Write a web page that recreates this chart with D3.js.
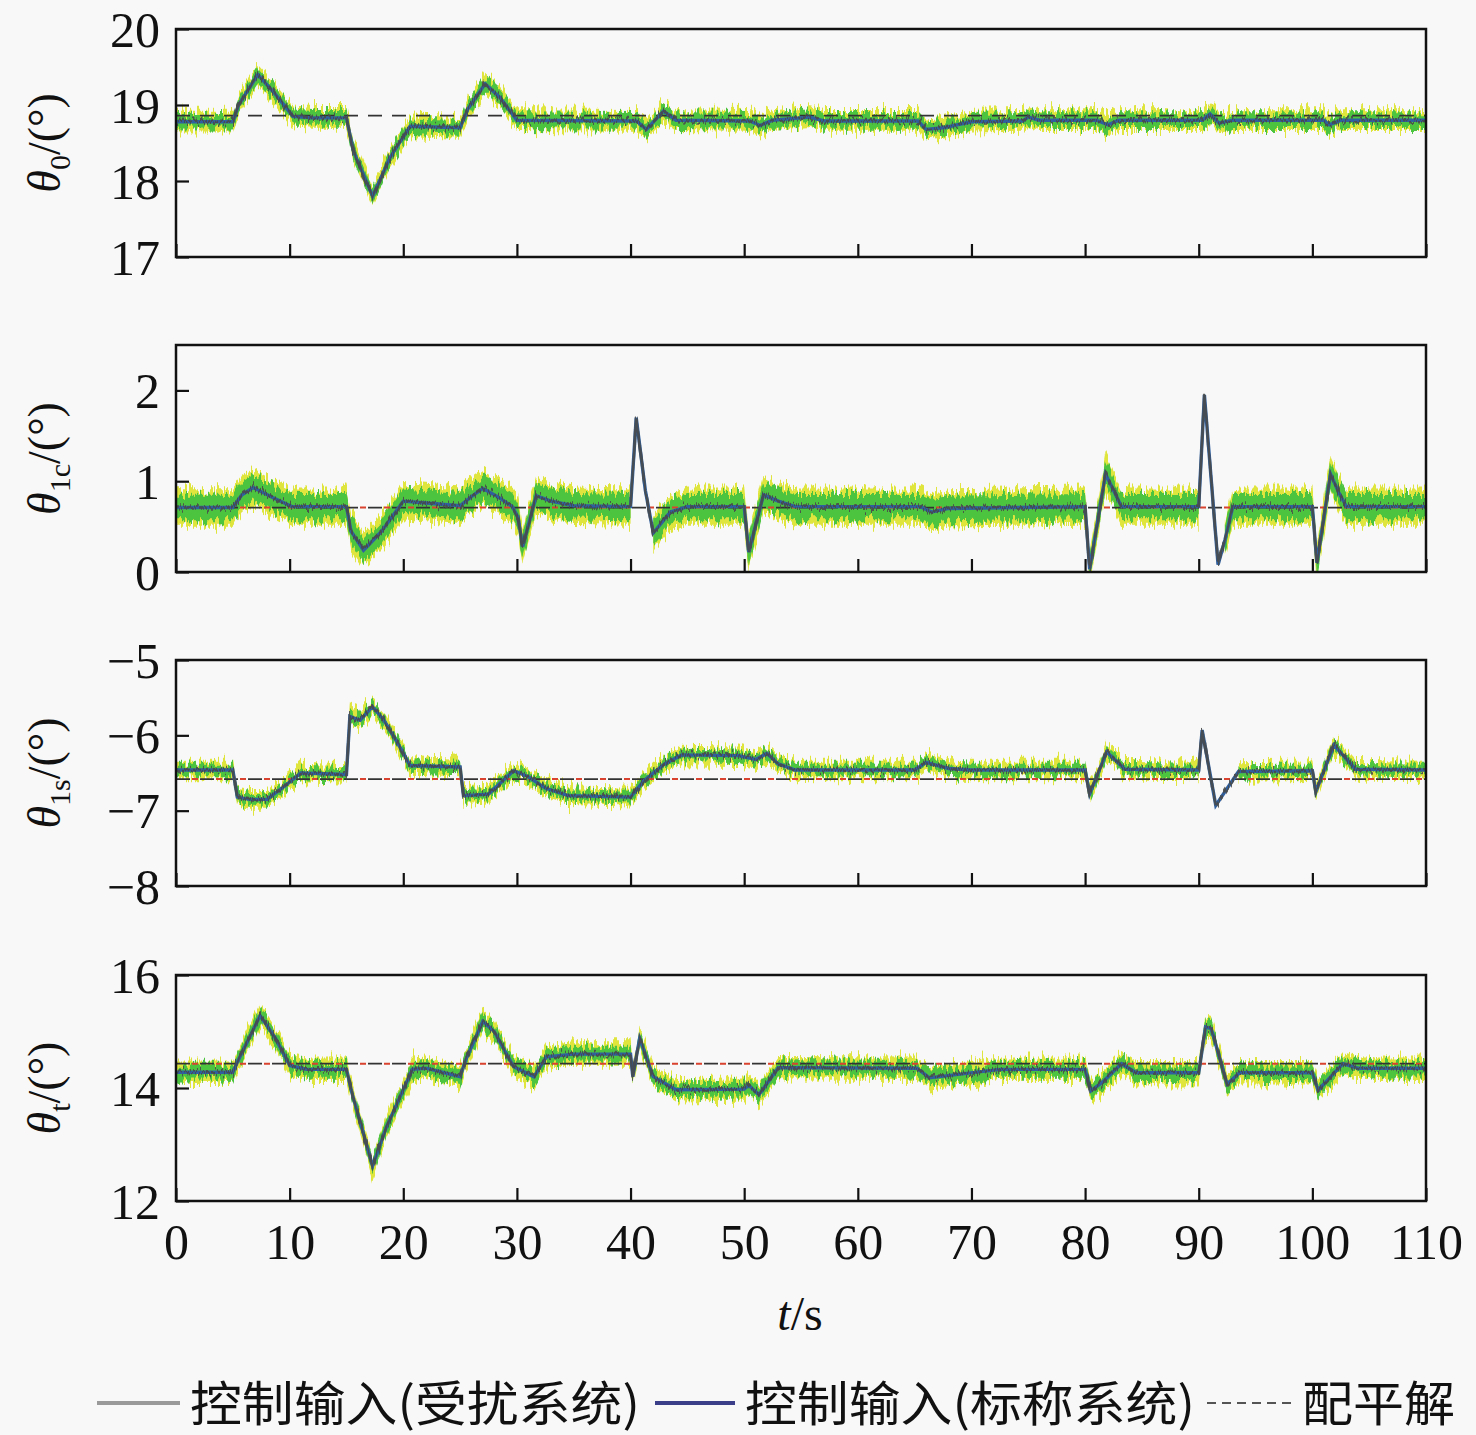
<!DOCTYPE html>
<html>
<head>
<meta charset="utf-8">
<script src="https://cdn.jsdelivr.net/npm/d3@7"></script>
<style>
  html, body { margin: 0; padding: 0; background: #f8f8f8; }
  svg { display: block; }
  .serif { font-family: "Liberation Serif", "Times New Roman", "DejaVu Serif", serif; }
  .cjk { font-family: "Noto Sans CJK SC", "Noto Sans", sans-serif; }
</style>
</head>
<body>
<svg id="chart" width="1476" height="1435"></svg>
<script>
// ---------------- DATA ----------------
const timeTicks = [0, 10, 20, 30, 40, 50, 60, 70, 80, 90, 100, 110];

// key points [t (s), value (deg)]
const theta0Curve = [[0,18.78],[5,18.78],[5.5,19.0],[7.2,19.4],[8.7,19.15],[10.3,18.85],[12,18.83],[15,18.83],[15.6,18.4],[17.3,17.8],[18.8,18.3],[20.6,18.72],[25,18.7],[25.7,18.95],[27.2,19.28],[28.5,19.1],[30,18.8],[40.5,18.79],[41.4,18.68],[42.9,18.92],[44,18.8],[50.5,18.79],[51.4,18.73],[52.5,18.8],[55.8,18.84],[57,18.79],[65.3,18.79],[66,18.68],[67.5,18.7],[70,18.78],[74.5,18.79],[75,18.84],[76,18.8],[81,18.8],[82,18.74],[83,18.8],[90.3,18.8],[91,18.88],[91.8,18.76],[93,18.8],[101,18.8],[101.5,18.74],[102.5,18.8],[110,18.8]];

const theta1cCurve = [[0,0.71],[5,0.71],[5.8,0.85],[6.8,0.93],[8.5,0.82],[10.2,0.72],[15,0.72],[15.4,0.45],[16.5,0.24],[17.2,0.33],[18.1,0.45],[20,0.78],[22,0.76],[25,0.73],[26,0.83],[27,0.92],[28.3,0.83],[29.6,0.72],[30.1,0.6],[30.5,0.28],[31.7,0.84],[33,0.78],[35,0.73],[40,0.72],[40.5,1.7],[41.3,0.9],[42,0.43],[43.5,0.66],[45,0.72],[50,0.72],[50.4,0.22],[51.7,0.85],[53,0.78],[54.5,0.72],[65.5,0.72],[66.5,0.66],[68,0.7],[80,0.72],[80.4,0.03],[81.8,1.08],[82.5,0.9],[83.2,0.72],[90,0.72],[90.5,1.95],[91.7,0.08],[92.3,0.35],[93,0.72],[100,0.72],[100.4,0.1],[101.6,1.08],[102.3,0.88],[103,0.72],[110,0.72]];

const theta1sCurve = [[0,-6.46],[5,-6.46],[5.4,-6.82],[6.5,-6.85],[8,-6.85],[9.5,-6.68],[11,-6.5],[15,-6.52],[15.3,-5.75],[16.2,-5.8],[17.3,-5.62],[18.3,-5.8],[19.5,-6.1],[20.6,-6.4],[25,-6.42],[25.3,-6.8],[27.5,-6.78],[29.7,-6.47],[31,-6.55],[32.5,-6.7],[34.5,-6.8],[40,-6.82],[41.2,-6.6],[43,-6.38],[44.5,-6.26],[49.5,-6.27],[51,-6.32],[52,-6.24],[53,-6.38],[54.5,-6.46],[65,-6.46],[66,-6.36],[68,-6.44],[70,-6.46],[80,-6.46],[80.4,-6.78],[81.9,-6.22],[83.5,-6.45],[90,-6.46],[90.3,-5.93],[91.5,-6.93],[93.5,-6.48],[100,-6.47],[100.3,-6.75],[101.9,-6.13],[103.8,-6.45],[110,-6.46]];

const thetaTCurve = [[0,14.28],[5,14.28],[5.5,14.5],[7.4,15.28],[8.7,14.9],[10,14.4],[11.5,14.33],[15,14.33],[15.5,13.9],[17.3,12.62],[18.5,13.3],[20.8,14.33],[22,14.35],[25,14.2],[25.5,14.5],[27,15.18],[28,15.0],[29.7,14.38],[31.5,14.2],[32.6,14.55],[35,14.6],[40,14.6],[40.2,14.2],[40.8,14.88],[42,14.2],[44,13.97],[50,13.98],[50.4,14.05],[51.3,13.88],[53,14.36],[65.2,14.35],[66.3,14.18],[72.5,14.33],[80,14.33],[80.5,13.95],[81.5,14.1],[83.2,14.43],[84.5,14.27],[90,14.27],[90.6,15.08],[91.1,15.05],[92.5,14.07],[93.6,14.27],[100,14.27],[100.5,13.96],[102.7,14.43],[104,14.35],[110,14.35]];

const trimValues = [18.86, 0.71, -6.58, 14.43];       // 配平解
const yDomains = [[17, 20], [0, 2.5], [-8, -5], [12, 16]];
const yTickValues = [[17, 18, 19, 20], [0, 1, 2], [-8, -7, -6, -5], [12, 14, 16]];
const yLabelSubs = ["0", "1c", "1s", "t"];
const bandInner = [0.09, 0.14, 0.07, 0.13];   // half-width of the noisy band (deg)
const bandOuter = [0.13, 0.2, 0.11, 0.19];
const bandGaps = [[], [[40.2, 41.9], [90.2, 91.9]], [[90.1, 91.7]], []];
const legendLabels = ["控制输入(受扰系统)", "控制输入(标称系统)", "配平解"];

const curves = [theta0Curve, theta1cCurve, theta1sCurve, thetaTCurve];

// ---------------- LAYOUT ----------------
const svg = d3.select("#chart");
const X0 = 176, X1 = 1426;
const panelRanges = [[257, 29], [572, 345], [886, 660], [1201, 975]];
const x = d3.scaleLinear().domain([0, 110]).range([X0, X1]);

const defs = svg.append("defs");
function noiseFilter(id, freq, seed, scale) {
  const f = defs.append("filter").attr("id", id)
    .attr("filterUnits", "userSpaceOnUse")
    .attr("x", 0).attr("y", 0).attr("width", 1476).attr("height", 1435);
  f.append("feTurbulence").attr("type", "fractalNoise")
    .attr("baseFrequency", freq).attr("numOctaves", 2).attr("seed", seed).attr("result", "turb");
  f.append("feColorMatrix").attr("in", "turb").attr("type", "matrix")
    .attr("values", "0 0 0 0 0.5  0 1 0 0 0  0 0 0 0 0  0 0 0 0 1").attr("result", "noise");
  f.append("feDisplacementMap").attr("in", "SourceGraphic").attr("in2", "noise")
    .attr("scale", scale).attr("xChannelSelector", "R").attr("yChannelSelector", "G");
}
noiseFilter("bandNoise", "0.45 0.015", 3, 26);
noiseFilter("bandNoise2", "0.35 0.02", 11, 22);
noiseFilter("lineNoise", "0.6 0.03", 7, 16);

curves.forEach((curve, i) => {
  const y = d3.scaleLinear().domain(yDomains[i]).range(panelRanges[i]);
  const g = svg.append("g");
  const clipId = "clip" + i;
  defs.append("clipPath").attr("id", clipId).append("rect")
    .attr("x", X0).attr("y", panelRanges[i][1])
    .attr("width", X1 - X0).attr("height", panelRanges[i][0] - panelRanges[i][1]);

  const plot = g.append("g").attr("clip-path", `url(#${clipId})`);
  const inGap = t => bandGaps[i].some(([a, b]) => t > a && t < b);

  // noisy band (perturbed Monte-Carlo runs)
  const areaOuter = d3.area().defined(d => !inGap(d[0]))
    .x(d => x(d[0])).y0(d => y(d[1] - bandOuter[i])).y1(d => y(d[1] + bandOuter[i]));
  const areaInner = d3.area().defined(d => !inGap(d[0]))
    .x(d => x(d[0])).y0(d => y(d[1] - bandInner[i])).y1(d => y(d[1] + bandInner[i]));
  plot.append("g").attr("filter", "url(#bandNoise)")
    .append("path").datum(curve).attr("d", areaOuter).attr("fill", "#dfe53c");
  plot.append("g").attr("filter", "url(#bandNoise2)")
    .append("path").datum(curve).attr("d", areaInner).attr("fill", "#4dc43f");

  // trim line (red run + dashed trim solution)
  if (i > 0) {
    plot.append("line").attr("x1", X0).attr("x2", X1)
      .attr("y1", y(trimValues[i])).attr("y2", y(trimValues[i]))
      .attr("stroke", "#d8422e").attr("stroke-width", 2)
      .attr("stroke-dasharray", "6,18").attr("stroke-dashoffset", 8);
  }
  plot.append("line").attr("x1", X0).attr("x2", X1)
    .attr("y1", y(trimValues[i])).attr("y2", y(trimValues[i]))
    .attr("stroke", "#333").attr("stroke-width", 1.8).attr("stroke-dasharray", "14,10");

  const line = d3.line().x(d => x(d[0])).y(d => y(d[1]));
  // nominal system (blue)
  plot.append("path").datum(curve).attr("d", line)
    .attr("fill", "none").attr("stroke", "#2f5f9e").attr("stroke-width", 3.4);
  // perturbed system (gray, noisy)
  plot.append("path").datum(curve).attr("d", line).attr("filter", "url(#lineNoise)")
    .attr("fill", "none").attr("stroke", "#4a4c4b").attr("stroke-width", 2.6).attr("opacity", 0.9);

  // frame
  g.append("rect").attr("x", X0).attr("y", panelRanges[i][1])
    .attr("width", X1 - X0).attr("height", panelRanges[i][0] - panelRanges[i][1])
    .attr("fill", "none").attr("stroke", "#111").attr("stroke-width", 2.5);

  // x axis (ticks inward)
  const xAxis = d3.axisBottom(x).tickValues(timeTicks).tickSizeInner(-13).tickSizeOuter(0)
    .tickFormat(i === 3 ? d3.format("d") : () => "");
  const gx = g.append("g").attr("transform", `translate(0,${panelRanges[i][0]})`).call(xAxis)
    .attr("font-family", null).attr("font-size", null);
  gx.select(".domain").remove();
  gx.selectAll(".tick line").attr("stroke", "#111").attr("stroke-width", 2.2);
  gx.selectAll(".tick text").attr("class", "serif").style("font-size", "50px")
    .attr("fill", "#111").attr("y", 22).attr("dy", "0.71em");

  // y axis (ticks inward)
  const yAxis = d3.axisLeft(y).tickValues(yTickValues[i]).tickSizeInner(-13).tickSizeOuter(0)
    .tickFormat(d3.format("d"));
  const gy = g.append("g").attr("transform", `translate(${X0},0)`).call(yAxis)
    .attr("font-family", null).attr("font-size", null);
  gy.select(".domain").remove();
  gy.selectAll(".tick line").attr("stroke", "#111").attr("stroke-width", 2.2);
  gy.selectAll(".tick text").attr("class", "serif").style("font-size", "50px")
    .attr("fill", "#111").attr("x", -16).attr("dy", "0.34em");

  // y label
  const cy = (panelRanges[i][0] + panelRanges[i][1]) / 2;
  const lab = g.append("text").attr("class", "serif").attr("transform", `translate(60,${cy}) rotate(-90)`)
    .attr("text-anchor", "middle").style("font-size", "46px").attr("fill", "#111");
  lab.append("tspan").attr("font-style", "italic").text("θ");
  lab.append("tspan").style("font-size", "30px").attr("dy", 10).text(yLabelSubs[i]);
  lab.append("tspan").attr("dy", -10).text("/(°)");
});

// x axis title
const xt = svg.append("text").attr("class", "serif").attr("x", 800).attr("y", 1330).attr("text-anchor", "middle")
  .style("font-size", "48px").attr("fill", "#111");
xt.append("tspan").attr("font-style", "italic").text("t");
xt.append("tspan").text("/s");

// legend
const legY = 1403;
const leg = svg.append("g");
leg.append("line").attr("x1", 97).attr("x2", 180).attr("y1", legY).attr("y2", legY)
  .attr("stroke", "#9a9a9a").attr("stroke-width", 4);
leg.append("text").attr("class", "cjk").attr("x", 190).attr("y", 1421).style("font-size", "48px")
  .attr("textLength", 450).attr("lengthAdjust", "spacingAndGlyphs").attr("fill", "#111").text(legendLabels[0]);
leg.append("line").attr("x1", 655).attr("x2", 735).attr("y1", legY).attr("y2", legY)
  .attr("stroke", "#3b3f8a").attr("stroke-width", 4);
leg.append("text").attr("class", "cjk").attr("x", 745).attr("y", 1421).style("font-size", "48px")
  .attr("textLength", 450).attr("lengthAdjust", "spacingAndGlyphs").attr("fill", "#111").text(legendLabels[1]);
leg.append("line").attr("x1", 1207).attr("x2", 1292).attr("y1", legY).attr("y2", legY)
  .attr("stroke", "#555").attr("stroke-width", 2).attr("stroke-dasharray", "9,6");
leg.append("text").attr("class", "cjk").attr("x", 1302).attr("y", 1421).style("font-size", "48px")
  .attr("textLength", 153).attr("lengthAdjust", "spacingAndGlyphs").attr("fill", "#111").text(legendLabels[2]);
</script>
</body>
</html>
